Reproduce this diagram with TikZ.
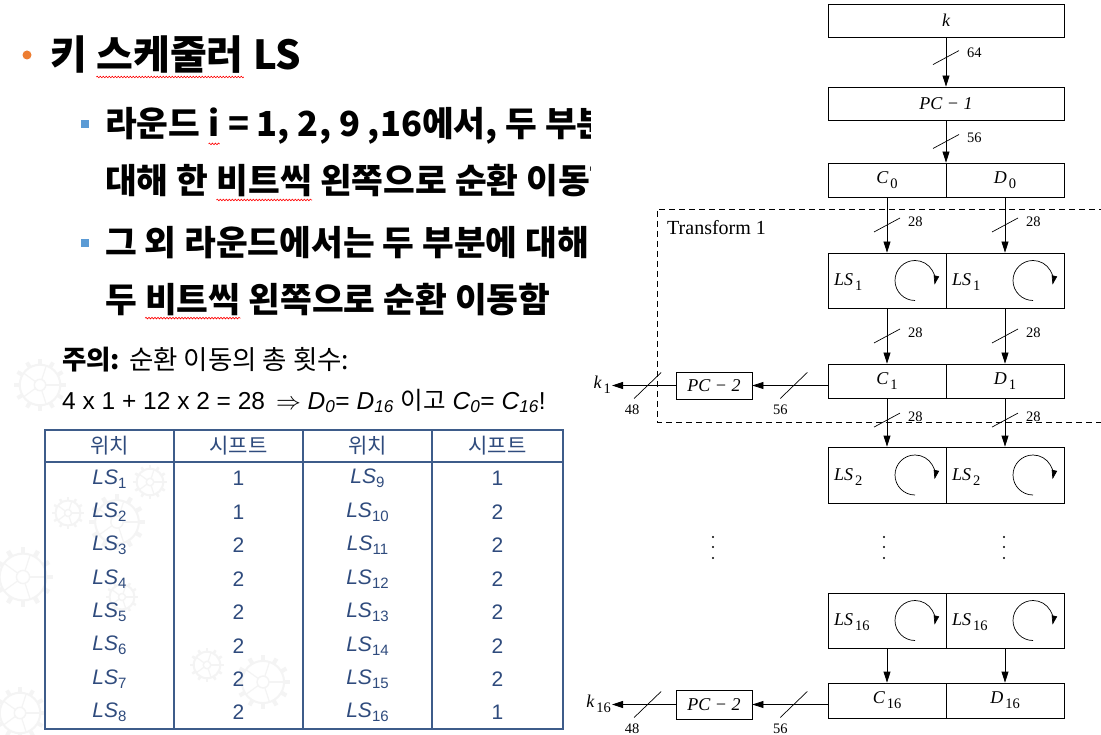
\documentclass[tikz,border=0pt]{standalone}
\usepackage{fontspec}
\setmainfont{Liberation Serif}
\newfontfamily\kr{Noto Sans CJK KR}
\newfontfamily\ar{Liberation Sans}
\newfontfamily\tms{Liberation Serif}
\usetikzlibrary{arrows.meta,calc,decorations.pathmorphing}
\definecolor{bulorange}{RGB}{237,125,49}
\definecolor{bulblue}{RGB}{91,155,213}
\definecolor{tblue}{RGB}{47,75,125}
\definecolor{tline}{RGB}{62,92,138}
\definecolor{gearcol}{RGB}{244,244,244}
\newcommand\dfont{\tms\fontsize{18}{18}\selectfont}
\newcommand\bigk{\kr\bfseries\fontsize{34.5}{34.5}\selectfont}
\newcommand\dsub[2]{{\itshape #1}\kern2pt\raisebox{-5pt}{\fontsize{14.5}{14.5}\selectfont #2}}
\newcommand\tls[1]{{\ar\itshape LS}\raisebox{-4pt}{\ar\fontsize{15}{15}\selectfont #1}}
\newcommand\gearat[3]{%
  \begin{scope}[shift={(#1,#2)}]
    \draw[gearcol, line width=2pt] (0,0) circle ({#3*0.78});
    \draw[gearcol, line width=1.4pt] (0,0) circle ({#3*0.22});
    \foreach \a in {0,30,...,330} \draw[gearcol, line width={#3*0.15}] (\a:{#3*0.78}) -- (\a:{#3});
    \foreach \a in {0,72,...,288} \draw[gearcol, line width=1.2pt] (\a:{#3*0.22}) -- (\a:{#3*0.75});
  \end{scope}}
\begin{document}
\begin{tikzpicture}[x=1pt,y=-1pt,
  box/.style={draw, line width=0.8pt, inner sep=0pt, font=\dfont},
  half/.style={box, minimum width=118pt},
  arr/.style={line width=0.8pt, -{Triangle[length=11pt,width=7pt]}},
  rotarr/.style={line width=0.7pt, -{Triangle[length=9pt,width=5.5pt]}},
  slash/.style={line width=0.7pt},
  lbl/.style={font=\tms\fontsize{14.5}{14.5}\selectfont, inner sep=0pt},
  squig/.style={red, line width=0.6pt, decorate, decoration={snake, amplitude=0.8pt, segment length=3pt}},
  ktext/.style={anchor=west, inner sep=0pt},
  kcont/.style={anchor=base west, inner sep=0pt},
  thead/.style={font=\kr\fontsize{21}{21}\selectfont, text=tblue, inner sep=0pt},
  tcell/.style={font=\ar\fontsize{21}{21}\selectfont, text=tblue, inner sep=0pt},
  tl/.style={draw=tline, line width=1.4pt},
  rot/.pic={\draw[rotarr] (0,20) arc[start angle=90, end angle=372, radius=20];}
]
\useasboundingbox[fill=white] (0,0) rectangle (1101,735);

% ---------- faint background gears ----------
\gearat{40}{385}{26}
\gearat{68}{513}{16}
\gearat{23}{577}{30}
\gearat{20}{713}{26}
\gearat{150}{482}{17}
\gearat{117}{522}{28}
\gearat{122}{597}{16}
\gearat{207}{665}{17}
\gearat{263}{682}{27}

% ---------- left text ----------
\fill[bulorange] (27,55) circle (4.5);
\node[ktext] (titA) at (50,55) {\kr\bfseries\fontsize{40}{40}\selectfont 키\ \null};
\node[kcont] (titB) at (titA.base east) {\kr\bfseries\fontsize{40}{40}\selectfont 스케줄러};
\node[kcont] (titC) at (titB.base east) {\kr\bfseries\fontsize{40}{40}\selectfont \ LS};
\draw[squig] ([yshift=-7pt]titB.base west) -- ([yshift=-7pt]titB.base east);

\fill[bulblue] (81,120) rectangle (89,128);
\fill[bulblue] (81,239) rectangle (89,247);
\begin{scope}
\clip (0,90) rectangle (590,330);
\node[ktext] (l1a) at (105,124) {\bigk 라운드\ \null};
\node[kcont] (l1b) at (l1a.base east) {\bigk i};
\node[kcont] (l1c) at (l1b.base east) {\bigk \ = 1, 2, 9 ,16에서, 두 부분에};
\node[ktext] (l2a) at (105,181) {\bigk 대해 한\ \null};
\node[kcont] (l2b) at (l2a.base east) {\bigk 비트씩};
\node[kcont] (l2c) at (l2b.base east) {\bigk \ 왼쪽으로 순환 이동함};
\node[ktext] (l3) at (105,243) {\bigk 그 외 라운드에서는 두 부분에 대해};
\node[ktext] (l4a) at (105,300) {\bigk 두\ \null};
\node[kcont] (l4b) at (l4a.base east) {\bigk 비트씩};
\node[kcont] (l4c) at (l4b.base east) {\bigk \ 왼쪽으로 순환 이동함};
\end{scope}
\draw[squig] ([yshift=-7pt]l1b.base west) -- ([yshift=-7pt]l1b.base east);
\draw[squig] ([yshift=-6pt]l2b.base west) -- ([yshift=-6pt]l2b.base east);
\draw[squig] ([yshift=-6pt]l4b.base west) -- ([yshift=-6pt]l4b.base east);

\node[ktext] (note1) at (62,360) {\fontsize{26.5}{26.5}\selectfont{\kr\bfseries 주의:} {\kr 순환 이동의 총 횟수:}};
\node[ktext] (note2) at (62,401) {\ar\fontsize{24.5}{24.5}\selectfont 4 x 1 + 12 x 2 = 28 \,$\Rightarrow$ \textit{D}\textsubscript{\textit{0}}= \textit{D}\textsubscript{\textit{16}} {\kr 이고} \textit{C}\textsubscript{\textit{0}}= \textit{C}\textsubscript{\textit{16}}!};

% ---------- table ----------
\draw[tl] (45,430) rectangle (563,729);
\draw[tl] (45,462) -- (563,462);
\foreach \x in {174,303,432} \draw[tl] (\x,430) -- (\x,729);
\node[thead] (h1) at (109.5,446) {위치};
\node[thead] (h2) at (238.5,446) {시프트};
\node[thead] (h3) at (367.5,446) {위치};
\node[thead] (h4) at (497.5,446) {시프트};
\foreach \a/\b/\c/\d [count=\i] in {1/1/9/1, 2/1/10/2, 3/2/11/2, 4/2/12/2, 5/2/13/2, 6/2/14/2, 7/2/15/2, 8/2/16/1}{
  \node[tcell] (ra\i) at (109.5,{462+33.4*(\i-0.5)}) {\tls{\a}};
  \node[tcell] (rb\i) at (238.5,{462+33.4*(\i-0.5)}) {\b};
  \node[tcell] (rc\i) at (367.5,{462+33.4*(\i-0.5)}) {\tls{\c}};
  \node[tcell] (rd\i) at (497.5,{462+33.4*(\i-0.5)}) {\d};
}

% ---------- diagram ----------
\draw[line width=0.7pt, dash pattern=on 6pt off 4pt] (1105,209) -- (657,209) -- (657,422) -- (1105,422);
\node[lbl, anchor=west, font=\tms\fontsize{20}{20}\selectfont] (tr) at (667,228) {Transform 1};

\node[box, minimum width=236pt, minimum height=33pt] (k) at (946,20.5) {\itshape k};
\node[box, minimum width=236pt, minimum height=33pt] (pc1) at (946,103.5) {\itshape PC − 1};
\node[half, minimum height=34pt] (C0) at (887,180) {\dsub{C}{0}};
\node[half, minimum height=34pt] (D0) at (1005,180) {\dsub{D}{0}};
\node[half, minimum height=55pt] (LS1a) at (887,280.5) {};
\node[half, minimum height=55pt] (LS1b) at (1005,280.5) {};
\node[half, minimum height=34pt] (C1) at (887,381) {\dsub{C}{1}};
\node[half, minimum height=34pt] (D1) at (1005,381) {\dsub{D}{1}};
\node[half, minimum height=56pt] (LS2a) at (887,475) {};
\node[half, minimum height=56pt] (LS2b) at (1005,475) {};
\node[half, minimum height=55pt] (LS16a) at (887,620.5) {};
\node[half, minimum height=55pt] (LS16b) at (1005,620.5) {};
\node[half, minimum height=35pt] (C16) at (887,700.5) {\dsub{C}{16}};
\node[half, minimum height=35pt] (D16) at (1005,700.5) {\dsub{D}{16}};

\node[box, anchor=west, font=\dfont] (t1a) at ($(LS1a.west)+(6,2)$) [draw=none] {\dsub{LS}{1}};
\node[box, anchor=west, font=\dfont] (t1b) at ($(LS1b.west)+(6,2)$) [draw=none] {\dsub{LS}{1}};
\node[box, anchor=west, font=\dfont] (t2a) at ($(LS2a.west)+(6,2)$) [draw=none] {\dsub{LS}{2}};
\node[box, anchor=west, font=\dfont] (t2b) at ($(LS2b.west)+(6,2)$) [draw=none] {\dsub{LS}{2}};
\node[box, anchor=west, font=\dfont] (t16a) at ($(LS16a.west)+(6,2)$) [draw=none] {\dsub{LS}{16}};
\node[box, anchor=west, font=\dfont] (t16b) at ($(LS16b.west)+(6,2)$) [draw=none] {\dsub{LS}{16}};
\foreach \n in {LS1a,LS1b,LS2a,LS2b,LS16a,LS16b} \pic at ($(\n.center)+(28,0)$) {rot};

\node[box, minimum width=76pt, minimum height=27pt] (pc2a) at (714,385.5) {\itshape PC − 2};
\node[box, minimum width=76pt, minimum height=29pt] (pc2b) at (714,704.5) {\itshape PC − 2};
\node[lbl, anchor=east, font=\dfont, inner sep=1pt] (k1) at (612,385) {\dsub{k}{1}};
\node[lbl, anchor=east, font=\dfont, inner sep=1pt] (k16) at (612,704) {\dsub{k}{16}};

% vertical arrows with bus marks
\draw[arr] (k) -- (pc1);
\draw[slash] ($(k.south)!0.41!(pc1.north)+(-13,7)$) -- ++(26,-14);
\node[lbl, anchor=west] (n64) at ($(k.south)!0.41!(pc1.north)+(21,-5)$) {64};
\draw[arr] (pc1) -- (pc1 |- C0.north);
\draw[slash] ($(pc1.south)!0.5!(pc1.south |- C0.north)+(-13,7)$) -- ++(26,-14);
\node[lbl, anchor=west] (n56a) at ($(pc1.south)!0.5!(pc1.south |- C0.north)+(21,-4)$) {56};
\draw[line width=0.8pt] (C0.north east) -- (C0.south east);

\foreach \u/\v/\f/\nm in {C0/LS1a/0.5/a, D0/LS1b/0.5/b, LS1a/C1/0.5/c, LS1b/D1/0.5/d, C1/LS2a/0.45/e, D1/LS2b/0.45/f}{
  \draw[arr] (\u) -- (\v);
  \draw[slash] ($(\u.south)!\f!(\v.north)+(-13,7)$) -- ++(26,-14);
  \node[lbl, anchor=west] (b\nm) at ($(\u.south)!\f!(\v.north)+(21,-3)$) {28};
}
\draw[arr] (LS16a) -- (C16);
\draw[arr] (LS16b) -- (D16);

% horizontal arrows to PC-2 and keys
\draw[arr] (pc2a.east -| C1.west) -- (pc2a.east);
\draw[slash] ($(pc2a.east -| C1.west)!0.45!(pc2a.east)+(-13.5,13)$) -- ++(27,-26);
\node[lbl] (n56b) at ($(pc2a.east -| C1.west)!0.45!(pc2a.east)+(-13.5,24)$) {56};
\draw[arr] (pc2a.west) -- (pc2a.west -| k1.east);
\draw[slash] ($(pc2a.west)!0.44!(pc2a.west -| k1.east)+(-13.5,13)$) -- ++(27,-26);
\node[lbl] (n48a) at ($(pc2a.west)!0.44!(pc2a.west -| k1.east)+(-15.5,24)$) {48};

\draw[arr] (pc2b.east -| C16.west) -- (pc2b.east);
\draw[slash] ($(pc2b.east -| C16.west)!0.45!(pc2b.east)+(-13.5,13)$) -- ++(27,-26);
\node[lbl] (n56c) at ($(pc2b.east -| C16.west)!0.45!(pc2b.east)+(-13.5,24)$) {56};
\draw[arr] (pc2b.west) -- (pc2b.west -| k16.east);
\draw[slash] ($(pc2b.west)!0.44!(pc2b.west -| k16.east)+(-13.5,13)$) -- ++(27,-26);
\node[lbl] (n48b) at ($(pc2b.west)!0.44!(pc2b.west -| k16.east)+(-15.5,24)$) {48};

% vertical dots
\foreach \x in {713,884,1004} \foreach \y in {537,547,558} \fill (\x,\y) circle (1.1);
\end{tikzpicture}
\end{document}
